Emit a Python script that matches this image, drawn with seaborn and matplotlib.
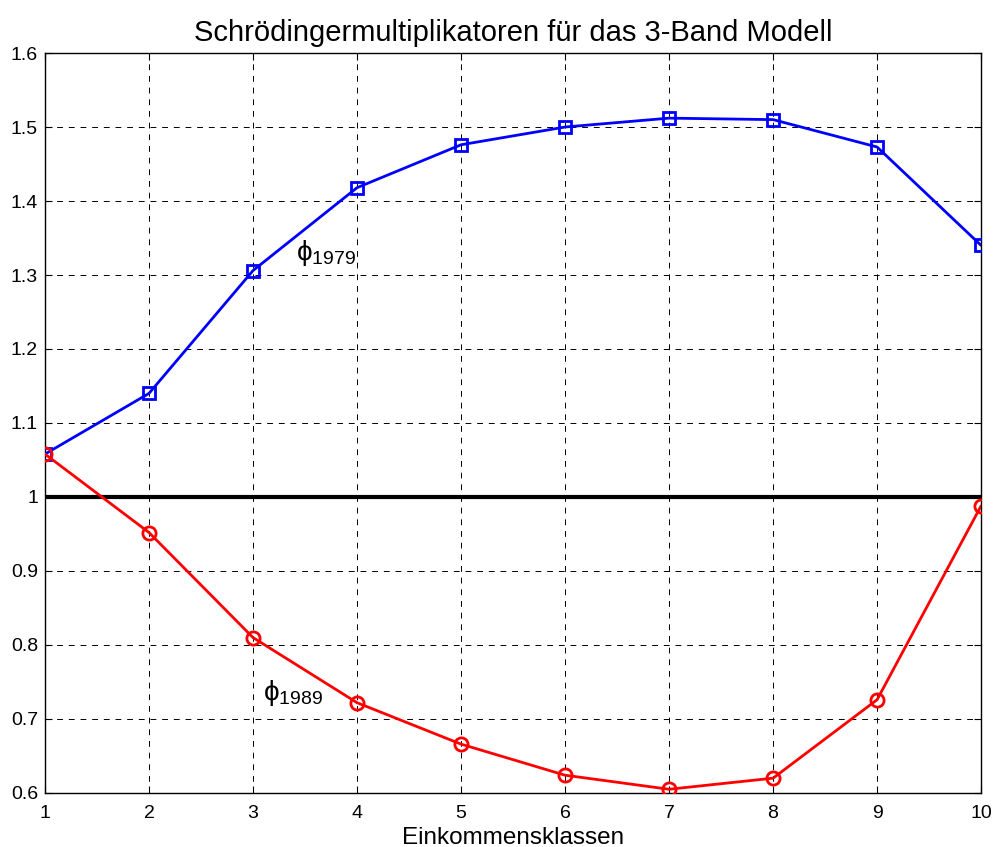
import matplotlib
matplotlib.use("Agg")
import matplotlib.pyplot as plt
import seaborn as sns
import pandas as pd

klassen = [1, 2, 3, 4, 5, 6, 7, 8, 9, 10]
phi_1979 = [1.058, 1.140, 1.306, 1.418, 1.476, 1.500, 1.512, 1.510, 1.473, 1.340]
phi_1989 = [1.058, 0.952, 0.810, 0.722, 0.666, 0.624, 0.605, 0.620, 0.726, 0.988]
yticks = [0.6, 0.7, 0.8, 0.9, 1.0, 1.1, 1.2, 1.3, 1.4, 1.5, 1.6]
ytick_labels = ["0.6", "0.7", "0.8", "0.9", "1", "1.1", "1.2", "1.3", "1.4", "1.5", "1.6"]

sns.set_style("white")
plt.rcParams["font.family"] = ["Liberation Sans", "DejaVu Sans"]
plt.rcParams["text.color"] = "black"
plt.rcParams["axes.labelcolor"] = "black"
plt.rcParams["mathtext.fontset"] = "custom"
plt.rcParams["mathtext.rm"] = "Liberation Sans"
plt.rcParams["mathtext.it"] = "Liberation Sans:italic"

fig = plt.figure(figsize=(9.93, 8.47), dpi=100)
ax = fig.add_axes([0.0453, 0.0638, 0.9427, 0.8736])

df = pd.DataFrame({"k": klassen, "a": phi_1979, "b": phi_1989})

ax.axhline(1.0, color="black", lw=3, zorder=2)
sns.lineplot(data=df, x="k", y="a", ax=ax, color="blue", lw=2, marker="s",
             markersize=8.5, markerfacecolor="none", markeredgecolor="blue",
             markeredgewidth=2, zorder=3)
sns.lineplot(data=df, x="k", y="b", ax=ax, color="red", lw=2, marker="o",
             markersize=9.5, markerfacecolor="none", markeredgecolor="red",
             markeredgewidth=2, zorder=4)

ax.set_xlim(1, 10)
ax.set_ylim(0.6, 1.6)
ax.set_xticks(klassen)
ax.set_xticklabels([str(k) for k in klassen])
ax.set_yticks(yticks)
ax.set_yticklabels(ytick_labels)
ax.tick_params(direction="in", length=5, width=0.8, labelsize=14, colors="black",
               top=True, right=True, bottom=True, left=True, pad=5)
ax.tick_params(axis="x", pad=9)
ax.grid(True, color="black", lw=0.7, linestyle=(0, (6, 6)))
for s in ax.spines.values():
    s.set_visible(True)
    s.set_color("black")
    s.set_linewidth(1)

ax.set_xlabel("Einkommensklassen", fontsize=17.5, labelpad=3, color="black")
ax.set_ylabel("")
ax.set_title("Schrödingermultiplikatoren für das 3-Band Modell", fontsize=21,
             pad=9, color="black")

ax.text(3.41, 1.32, r"$\mathrm{\phi}_{\mathrm{1979}}$", fontsize=20, ha="left", va="baseline")
ax.text(3.10, 0.725, r"$\mathrm{\phi}_{\mathrm{1989}}$", fontsize=20, ha="left", va="baseline")

fig.savefig("out.png", dpi=100)
